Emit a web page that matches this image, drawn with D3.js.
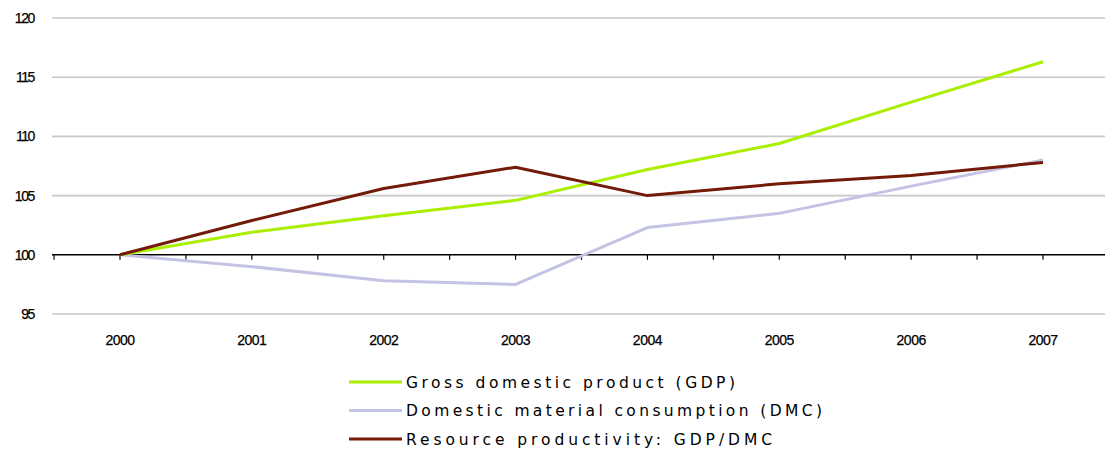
<!DOCTYPE html>
<html><head><meta charset="utf-8">
<script src="https://cdn.jsdelivr.net/npm/d3@7"></script>
<style>body{margin:0;background:#fff}svg{display:block}</style>
</head><body>
<svg id="c" width="1105" height="451"></svg>
<script>
const years = ["2000","2001","2002","2003","2004","2005","2006","2007"];
const gdp = [100, 101.9, 103.3, 104.6, 107.2, 109.4, 112.9, 116.3];
const dmc = [100, 99.0, 97.8, 97.5, 102.3, 103.5, 105.8, 108.0];
const productivity = [100, 102.9, 105.6, 107.4, 105.0, 106.0, 106.7, 107.8];
const yTicks = [95, 100, 105, 110, 115, 120];
const legendLabels = ["Gross domestic product (GDP)", "Domestic material consumption (DMC)", "Resource productivity: GDP/DMC"];

const colors = ["#aaee00", "#c3c3e3", "#731a08"];
const svg = d3.select("#c");
const x = d3.scalePoint().domain(years).range([120, 1043]);
const y = d3.scaleLinear().domain([95, 120]).range([314, 18]);

// gridlines
svg.append("g").selectAll("line").data(yTicks.filter(t => t !== 100)).join("line")
  .attr("x1", 52).attr("x2", 1105).attr("y1", d => y(d)).attr("y2", d => y(d))
  .attr("stroke", "#c8c8c8").attr("stroke-width", 1.6);

// y labels
svg.append("g").selectAll("text").data(yTicks).join("text")
  .attr("x", 34).attr("y", d => y(d) + 5).attr("text-anchor", "end")
  .attr("font-family", "Liberation Sans, Arial").attr("font-size", 14)
  .attr("letter-spacing", -1.4).attr("fill", "#000").attr("stroke", "#000").attr("stroke-width", 0.25)
  .text(d => d);

// x axis at 100
const step = x.step();
svg.append("line").attr("x1", 52).attr("x2", 1105).attr("y1", y(100)).attr("y2", y(100))
  .attr("stroke", "#000").attr("stroke-width", 1.4);
const tickPos = d3.range(-0.5, 7.6, 0.5).map(i => x(years[0]) + i * step);
svg.append("g").selectAll("line").data(tickPos).join("line")
  .attr("x1", d => d).attr("x2", d => d).attr("y1", y(100)).attr("y2", y(100) + 5)
  .attr("stroke", "#000").attr("stroke-width", 1.2);

// year labels
svg.append("g").selectAll("text").data(years).join("text")
  .attr("x", d => x(d)).attr("y", 345).attr("text-anchor", "middle")
  .attr("font-family", "Liberation Sans, Arial").attr("font-size", 14)
  .attr("letter-spacing", -0.5).attr("fill", "#000").attr("stroke", "#000").attr("stroke-width", 0.25)
  .text(d => d);

// lines
const line = d3.line().x((d, i) => x(years[i])).y(d => y(d));
[[dmc, 1], [gdp, 0], [productivity, 2]].forEach(([s, ci]) => {
  svg.append("path").datum(s).attr("d", line).attr("fill", "none")
    .attr("stroke", colors[ci]).attr("stroke-width", 3).attr("stroke-linejoin", "round");
});

// legend
const lg = svg.append("g");
const legEnds = [735, 822, 772];
legendLabels.forEach((t, i) => {
  const yy = 382 + i * 28.5;
  lg.append("line").attr("x1", 349).attr("x2", 402).attr("y1", yy).attr("y2", yy)
    .attr("stroke", colors[i]).attr("stroke-width", 3);
  lg.append("text").attr("x", 406).attr("y", yy + 5.5)
    .attr("font-family", "DejaVu Sans, Verdana").attr("font-size", 15.5).attr("fill", "#000")
    .attr("textLength", legEnds[i] - 406).attr("lengthAdjust", "spacing")
    .text(t);
});
</script>
</body></html>
